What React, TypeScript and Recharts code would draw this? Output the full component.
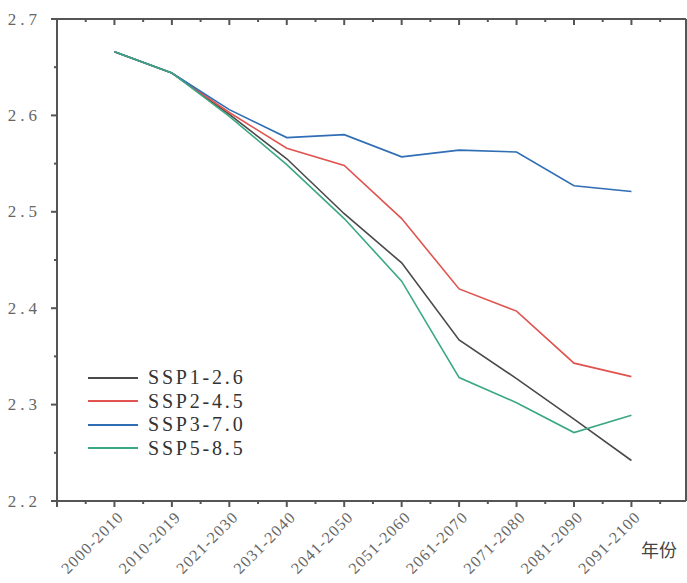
import React from 'react';
import { LineChart, Line, XAxis, YAxis } from 'recharts';

const categories = ['2000-2010', '2010-2019', '2021-2030', '2031-2040', '2041-2050', '2051-2060', '2061-2070', '2071-2080', '2081-2090', '2091-2100'];
const ssp126 = [2.666, 2.644, 2.601, 2.555, 2.498, 2.447, 2.367, 2.327, 2.285, 2.242];
const ssp245 = [2.666, 2.644, 2.603, 2.566, 2.548, 2.493, 2.42, 2.397, 2.343, 2.329];
const ssp370 = [2.666, 2.644, 2.606, 2.577, 2.58, 2.557, 2.564, 2.562, 2.527, 2.521];
const ssp585 = [2.666, 2.644, 2.599, 2.549, 2.493, 2.428, 2.328, 2.302, 2.271, 2.289];

const seriesNames = ['SSP1-2.6', 'SSP2-4.5', 'SSP3-7.0', 'SSP5-8.5'];
const seriesKeys = ['ssp126', 'ssp245', 'ssp370', 'ssp585'];
const seriesColors = ['#4a4a4a', '#e0534f', '#2f6db5', '#3aa882'];

const xTicks = [0, 0.5, 1, 1.5, 2, 2.5, 3, 3.5, 4, 4.5, 5, 5.5, 6, 6.5, 7, 7.5, 8, 8.5, 9, 9.5, 10, 10.5];
const yTicks = [2.2, 2.25, 2.3, 2.35, 2.4, 2.45, 2.5, 2.55, 2.6, 2.65, 2.7];
const yLabels = ['2.2', '2.3', '2.4', '2.5', '2.6', '2.7'];

const data = categories.map((c, i) => ({
  pos: i + 1,
  period: c,
  ssp126: ssp126[i],
  ssp245: ssp245[i],
  ssp370: ssp370[i],
  ssp585: ssp585[i],
}));

const AXIS = '#555';
const FONT = '"Liberation Serif", "DejaVu Serif", serif';
const X_MAX = 10.95;

const isMajorY = (v: number) => Math.round(v * 100) % 10 === 0;

const BottomTick = (props: any) => {
  const { x, y, payload } = props;
  const v = payload.value;
  const major = Number.isInteger(v);
  const label = major && v >= 1 ? categories[v - 1] : null;
  return (
    <g>
      <line x1={x} x2={x} y1={y} y2={y + (major ? 6 : 3)} stroke={AXIS} strokeWidth={2} />
      {label && (
        <text
          transform={`translate(${x + 10},${y + 17}) rotate(-45)`}
          textAnchor="end"
          fontFamily={FONT}
          fontSize={16}
          letterSpacing={1.2}
          fill="#666"
        >
          {label}
        </text>
      )}
    </g>
  );
};

const TopTick = (props: any) => {
  const { x, y, payload } = props;
  const major = Number.isInteger(payload.value);
  return <line x1={x} x2={x} y1={y} y2={y + (major ? 6 : 3)} stroke={AXIS} strokeWidth={2} />;
};

const LeftTick = (props: any) => {
  const { x, y, payload } = props;
  const v = payload.value;
  const major = isMajorY(v);
  const label = major ? yLabels[Math.round((v - 2.2) * 10)] : null;
  return (
    <g>
      <line x1={x - (major ? 6 : 3)} x2={x} y1={y} y2={y} stroke={AXIS} strokeWidth={2} />
      {label && (
        <text x={x - 16} y={y} textAnchor="end" dominantBaseline="central" fontFamily={FONT} fontSize={17} letterSpacing={4} fill="#666">
          {label}
        </text>
      )}
    </g>
  );
};

const RightTick = (props: any) => {
  const { x, y, payload } = props;
  const major = isMajorY(payload.value);
  return <line x1={x - (major ? 6 : 3)} x2={x} y1={y} y2={y} stroke={AXIS} strokeWidth={2} />;
};

export default function App() {
  return (
    <div style={{ position: 'absolute', left: 0, top: 0, width: 687, height: 583, overflow: 'hidden', background: '#fff' }}>
      <LineChart width={687} height={583} data={data} margin={{ top: 0, right: 0, bottom: 0, left: 0 }}>
        <XAxis
          dataKey="pos"
          type="number"
          domain={[0, X_MAX]}
          ticks={xTicks}
          interval={0}
          height={82}
          tickSize={0}
          tickMargin={0}
          tickLine={false}
          axisLine={{ stroke: AXIS, strokeWidth: 2 }}
          tick={<BottomTick />}
        />
        <XAxis
          xAxisId="top"
          orientation="top"
          dataKey="pos"
          type="number"
          domain={[0, X_MAX]}
          ticks={xTicks}
          interval={0}
          height={19}
          tickSize={0}
          tickMargin={0}
          tickLine={false}
          axisLine={{ stroke: AXIS, strokeWidth: 2 }}
          tick={<TopTick />}
        />
        <YAxis
          type="number"
          domain={[2.2, 2.7]}
          ticks={yTicks}
          interval={0}
          width={57}
          tickSize={0}
          tickMargin={0}
          tickLine={false}
          axisLine={{ stroke: AXIS, strokeWidth: 2 }}
          tick={<LeftTick />}
        />
        <YAxis
          yAxisId="right"
          orientation="right"
          type="number"
          domain={[2.2, 2.7]}
          ticks={yTicks}
          interval={0}
          width={1}
          tickSize={0}
          tickMargin={0}
          tickLine={false}
          axisLine={{ stroke: AXIS, strokeWidth: 2 }}
          tick={<RightTick />}
        />
        {seriesKeys.map((k, i) => (
          <Line
            key={k}
            type="linear"
            dataKey={k}
            name={seriesNames[i]}
            stroke={seriesColors[i]}
            strokeWidth={1.6}
            dot={false}
            isAnimationActive={false}
          />
        ))}
      </LineChart>
      <div style={{ position: 'absolute', left: 88, top: 366, fontFamily: FONT, fontSize: 20, color: '#333', letterSpacing: 2.8 }}>
        {seriesNames.map((n, i) => (
          <div key={n} style={{ display: 'flex', alignItems: 'center', height: 23.5 }}>
            <div style={{ width: 50, height: 0, borderTop: `2px solid ${seriesColors[i]}`, marginRight: 10 }} />
            <span>{n}</span>
          </div>
        ))}
      </div>
      <div style={{ position: 'absolute', left: 641, top: 536, fontFamily: '"Noto Sans CJK SC", sans-serif', fontSize: 18, color: '#444' }}>
        年份
      </div>
    </div>
  );
}
